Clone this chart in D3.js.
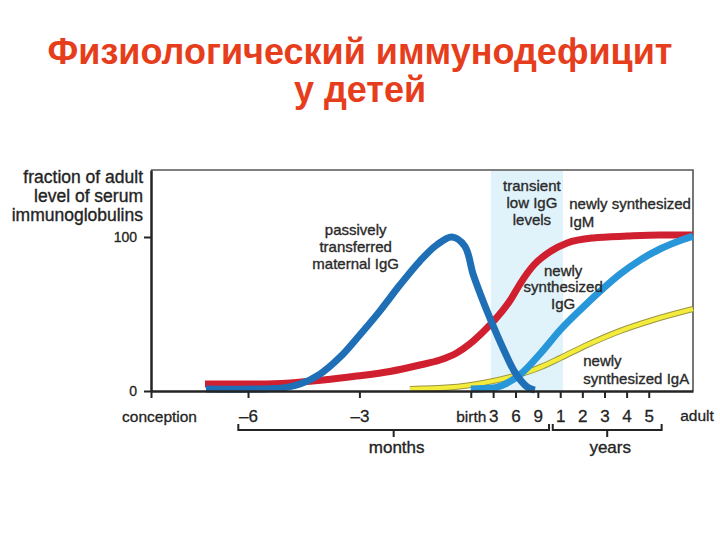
<!DOCTYPE html>
<html>
<head>
<meta charset="utf-8">
<script src="https://cdn.jsdelivr.net/npm/d3@7"></script>
<style>
  body { margin: 0; background: #fff; }
  text { font-family: "Liberation Sans", Arial, sans-serif; }
</style>
</head>
<body>
<svg id="chart" width="720" height="540"></svg>
<script>
// ---- data (x in months from birth, y in % of adult level) ----
var titleLines = ["Физиологический иммунодефицит", "у детей"];
var yTitleLines = ["fraction of adult", "level of serum", "immunoglobulins"];

var xBreaks = [-9, -6, 0, 12, 84];          // conception, -6 mo, birth, 1 yr, adult
var xBreakFrac = [0, 0.179, 0.59, 0.755, 1]; // where each break sits across the plot

var tickMonths = [-9, -6, -3, 0, 3, 6, 9, 12, 24, 36, 48, 60];
var tickLabels = ["conception", "–6", "–3", "birth", "3", "6", "9", "1", "2", "3", "4", "5"];
var adultMonth = 84;
var yTicks = [0, 100];

var lowIgGBand = [2.7, 13.5];
var monthsBracket = [-6.3, 10.5];
var yearsBracket = [11, 67];

var maternalMonths = [-7.3, -5.7, -5.0, -4.6, -4.06, -3.52, -2.99, -2.45, -1.91, -1.37, -0.92, -0.51, -0.16, 0.3, 1.2, 2.6, 4.4, 6.0, 7.6, 8.6];
var maternalValues = [1.3, 1.3, 2.2, 4.5, 11, 22, 36.4, 51.9, 68.8, 84.4, 94.8, 100, 94, 76, 64, 47, 27, 11.5, 2.5, 0.6];

var igmMonths = [-7.33, -5.68, -4.87, -3.98, -3.07, -2.18, -1.37, -0.83, -0.38, -0.03, 1.64, 3.55, 5.32, 6.68, 8.46, 10.78, 15.8, 29.9, 48.3, 66.1, 84];
var igmValues = [4.5, 4.5, 5.2, 7.1, 9.7, 12.7, 16.9, 20.1, 24.7, 30.5, 38.3, 48, 59.1, 70.1, 81.8, 90.9, 96.1, 99.4, 100.6, 101.3, 101.3];

var iggMonths = [0, 3.0, 4.6, 6.7, 9.4, 12, 22.8, 33.7, 44.5, 55.3, 66.1, 78.6, 84];
var iggValues = [1.3, 2, 4.5, 11, 24.7, 39.6, 52.6, 64.9, 76, 85, 92.2, 98.4, 100.6];

var igaMonths = [-1.64, -0.56, 1.64, 6.27, 9.41, 12, 26.6, 44.5, 62.3, 84];
var igaValues = [1.3, 2.3, 5.2, 10.4, 15.6, 21.4, 29.9, 39, 46.1, 53.2];

// ---- layout ----
var svg = d3.select("#chart");
var plotLeft = 151, plotRight = 693, plotTop = 170, plotBottom = 391;
var ink = "#242424";

var x = d3.scaleLinear()
    .domain(xBreaks)
    .range(xBreakFrac.map(function(f) { return plotLeft + f * (plotRight - plotLeft); }));
var y = d3.scaleLinear().domain([0, 143.5]).range([plotBottom, plotTop]);

// title
svg.selectAll("text.title")
    .data(titleLines)
    .enter().append("text")
    .attr("class", "title")
    .attr("x", 360)
    .attr("y", function(d, i) { return 64 + i * 38; })
    .attr("text-anchor", "middle")
    .attr("font-size", 36)
    .attr("font-weight", "bold")
    .attr("fill", "#e63e1d")
    .text(function(d) { return d; });

// shaded "transient low IgG" band
svg.append("rect")
    .attr("x", x(lowIgGBand[0]))
    .attr("y", plotTop)
    .attr("width", x(lowIgGBand[1]) - x(lowIgGBand[0]))
    .attr("height", plotBottom - plotTop)
    .attr("fill", "#e0f3fb");

// top and right frame
svg.append("path")
    .attr("d", "M" + plotLeft + "," + plotTop + "H" + plotRight + "V" + plotBottom)
    .attr("fill", "none")
    .attr("stroke", "#555")
    .attr("stroke-width", 1.6);

// curves
function lineWith(curve) {
  return d3.line()
      .x(function(d) { return x(d[0]); })
      .y(function(d) { return y(d[1]); })
      .curve(curve);
}
var smooth = lineWith(d3.curveMonotoneX);
var peaked = lineWith(d3.curveCatmullRom.alpha(0.5));

var curves = svg.append("g").attr("fill", "none").attr("stroke-linecap", "butt");

curves.append("path").attr("d", smooth(d3.zip(igaMonths, igaValues)))
    .attr("stroke", "#9a9540").attr("stroke-width", 6.2);
curves.append("path").attr("d", smooth(d3.zip(igaMonths, igaValues)))
    .attr("stroke", "#f4ec3c").attr("stroke-width", 4.2);
curves.append("path").attr("d", smooth(d3.zip(igmMonths, igmValues)))
    .attr("stroke", "#d0202f").attr("stroke-width", 7);
curves.append("path").attr("d", smooth(d3.zip(iggMonths, iggValues)))
    .attr("stroke", "#2797da").attr("stroke-width", 7);
curves.append("path").attr("d", peaked(d3.zip(maternalMonths, maternalValues)))
    .attr("stroke", "#1e6fb6").attr("stroke-width", 7);

// axes
var yAxis = svg.append("g")
    .attr("transform", "translate(" + plotLeft + ",0)")
    .call(d3.axisLeft(y).tickValues(yTicks).tickSize(7).tickSizeOuter(0));
yAxis.select(".domain").attr("stroke", ink).attr("stroke-width", 2.5);
yAxis.selectAll(".tick line").attr("stroke", ink).attr("stroke-width", 2);
yAxis.selectAll(".tick text")
    .attr("x", -14)
    .attr("font-size", 14)
    .attr("font-family", "Liberation Sans, Arial, sans-serif")
    .attr("fill", ink)
    .attr("stroke", ink)
    .attr("stroke-width", 0.3);

var xAxis = svg.append("g")
    .attr("transform", "translate(0," + plotBottom + ")")
    .call(d3.axisBottom(x).tickValues(tickMonths)
        .tickFormat(function(d, i) { return tickLabels[i]; })
        .tickSize(7).tickSizeOuter(0));
xAxis.select(".domain").attr("stroke", ink).attr("stroke-width", 2.5);
xAxis.selectAll(".tick line").attr("stroke", ink).attr("stroke-width", 2);
xAxis.selectAll(".tick text")
    .attr("y", 31)
    .attr("dy", 0)
    .attr("dx", function(d, i) { return i === 0 ? 8 : 0; })
    .attr("font-family", "Liberation Sans, Arial, sans-serif")
    .attr("font-size", function(d, i) { return /\d/.test(tickLabels[i]) ? 17 : 15.5; })
    .attr("fill", ink)
    .attr("stroke", ink)
    .attr("stroke-width", 0.3);

svg.append("text")
    .attr("x", x(adultMonth) + 4)
    .attr("y", plotBottom + 30)
    .attr("text-anchor", "middle")
    .attr("font-size", 15.5)
    .attr("fill", ink)
    .attr("stroke", ink)
    .attr("stroke-width", 0.3)
    .text("adult");

// months / years brackets
function bracket(span, label) {
  var x0 = x(span[0]), x1 = x(span[1]), xm = (x0 + x1) / 2;
  svg.append("path")
      .attr("d", "M" + x0 + ",424V430H" + x1 + "V424M" + xm + ",430V437")
      .attr("fill", "none")
      .attr("stroke", ink)
      .attr("stroke-width", 2);
  svg.append("text")
      .attr("x", xm + 3)
      .attr("y", 453)
      .attr("text-anchor", "middle")
      .attr("font-size", 17)
      .attr("fill", ink)
      .attr("stroke", ink)
      .attr("stroke-width", 0.35)
      .text(label);
}
bracket(monthsBracket, "months");
bracket(yearsBracket, "years");

// y axis title
svg.selectAll("text.ytitle")
    .data(yTitleLines)
    .enter().append("text")
    .attr("class", "ytitle")
    .attr("x", 143)
    .attr("y", function(d, i) { return 183 + i * 19; })
    .attr("text-anchor", "end")
    .attr("font-size", 17.5)
    .attr("fill", ink)
    .attr("stroke", ink)
    .attr("stroke-width", 0.35)
    .text(function(d) { return d; });

// curve annotations, anchored in data units
var notes = [
  { lines: ["passively", "transferred", "maternal IgG"], m: -3.1, v: 101.3, anchor: "middle", step: 17 },
  { lines: ["transient", "low IgG", "levels"], m: 8.2, v: 129.9, anchor: "middle", step: 17 },
  { lines: ["newly synthesized", "IgM"], m: 16.9, v: 118.2, anchor: "start", step: 18 },
  { lines: ["newly", "synthesized", "IgG"], m: 13.6, v: 74.7, anchor: "middle", step: 16.5 },
  { lines: ["newly", "synthesized IgA"], m: 24.5, v: 16.2, anchor: "start", step: 18 }
];

notes.forEach(function(n) {
  svg.append("g").selectAll("text")
      .data(n.lines)
      .enter().append("text")
      .attr("x", x(n.m))
      .attr("y", function(d, i) { return y(n.v) + i * n.step; })
      .attr("text-anchor", n.anchor)
      .attr("font-size", 15)
      .attr("fill", "#2a2a2a")
      .attr("stroke", "#2a2a2a")
      .attr("stroke-width", 0.35)
      .text(function(d) { return d; });
});
</script>
</body>
</html>
